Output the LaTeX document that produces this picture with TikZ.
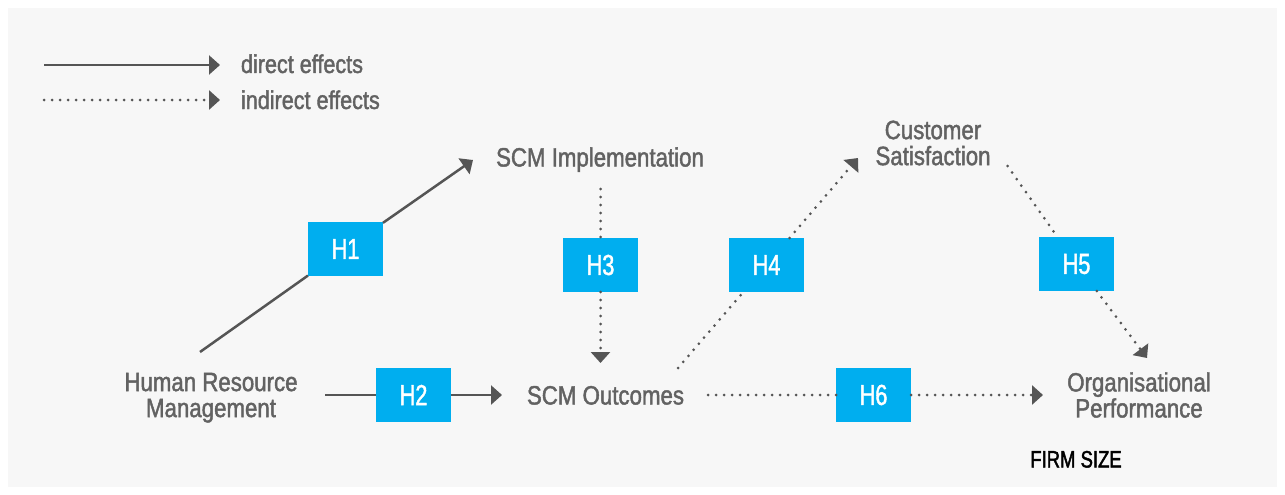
\documentclass[tikz,border=0pt]{standalone}
\usepackage{fontspec}
\setmainfont{Liberation Sans}[FakeStretch=0.84, FakeBold=1.6]
\newfontfamily\hfont{Liberation Sans}[FakeStretch=0.75, FakeBold=1.4]
\newfontfamily\firmfont{Liberation Sans}[FakeStretch=0.78, FakeBold=2]
\usetikzlibrary{arrows.meta}
\definecolor{bg}{HTML}{F7F7F7}
\definecolor{linegray}{HTML}{555555}
\definecolor{textgray}{HTML}{626262}
\definecolor{hblue}{HTML}{00AEEF}
\begin{document}
\begin{tikzpicture}[x=1pt,y=-1pt,
  every node/.style={inner sep=0pt, outer sep=0pt},
  lbl/.style={text=textgray, font=\fontsize{26.5}{26}\selectfont, align=center},
  leg/.style={text=textgray, font=\fontsize{25.7}{26}\selectfont},
  hbox/.style={fill=hblue, text=white, minimum width=75pt, minimum height=54pt, font=\hfont\fontsize{29}{29}\selectfont},
  direct/.style={draw=linegray, line width=2.5pt, -{Triangle[length=11pt,width=19pt]}},
  indirect/.style={direct, line width=3pt, dash pattern=on 0pt off 8pt, line cap=round},
]
\useasboundingbox (0,0) rectangle (1285,495);
\fill[bg] (8,8) rectangle (1277,487);

% legend
\node[leg, anchor=base west] (ld) at (241,73) {direct effects};
\node[leg, anchor=base west] (li) at (241,109) {indirect effects};
\coordinate (lds) at (44,65);
\coordinate (lde) at (220,65);
\coordinate (lis) at (44,100);
\coordinate (lie) at (220,100);
\draw[direct] (lds) -- (lde);
\draw[indirect] (lis) -- (lie);

% concept labels
\node[lbl, anchor=base] (imp) at (600,166.5) {SCM Implementation};
\node[lbl] (cs) at (933,143) {Customer\\Satisfaction};
\node[lbl] (hrm) at (211,397.7) {Human Resource\\Management};
\node[lbl, anchor=base] (out) at (605.5,404.5) {SCM Outcomes};
\node[lbl] (op) at (1139,395) {Organisational\\Performance};
\node[anchor=base, font=\firmfont\fontsize{23.7}{24}\selectfont] (firm) at (1076,467.5) {FIRM SIZE};

% hypothesis boxes
\node[hbox] (h1) at (345.5,249) {H1};
\node[hbox] (h2) at (413.5,395) {H2};
\node[hbox] (h3) at (600.5,265) {H3};
\node[hbox] (h4) at (766.5,265) {H4};
\node[hbox] (h5) at (1076.5,264) {H5};
\node[hbox] (h6) at (873.5,395) {H6};

% connector end points
\coordinate (h1s) at (200,352);
\coordinate (h1e) at (473,160);
\coordinate (h2s) at (325,395);
\coordinate (h2e) at (502,395);
\coordinate (h3s) at (600.5,189);
\coordinate (h3e) at (600.5,363);
\coordinate (h4s) at (678,368);
\coordinate (h4e) at (858,158);
\coordinate (h5s) at (1007.5,166);
\coordinate (h5e) at (1147,358);
\coordinate (h6s) at (708,395);
\coordinate (h6e) at (1043,395);

\draw[direct] (h1s) -- (h1) -- (h1e);
\draw[direct] (h2s) -- (h2) -- (h2e);
\draw[indirect] (h3s) -- (h3) -- (h3e);
\draw[indirect] (h4s) -- (h4) -- (h4e);
\draw[indirect] (h5s) -- (h5) -- (h5e);
\draw[indirect] (h6s) -- (h6) -- (h6e);
\end{tikzpicture}
\end{document}
